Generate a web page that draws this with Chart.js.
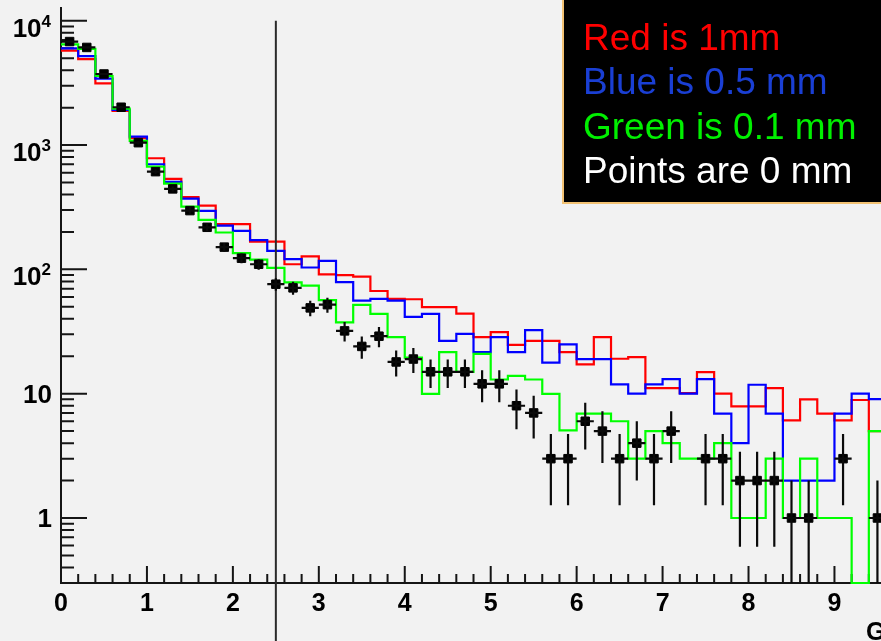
<!DOCTYPE html>
<html>
<head>
<meta charset="utf-8">
<title>Track distributions by pitch</title>
<script src="https://cdn.jsdelivr.net/npm/chart.js@4.4.1/dist/chart.umd.min.js"></script>
<style>
  html, body { margin: 0; padding: 0; background: #f2f2f2; overflow: hidden; width: 881px; height: 641px; }
  #wrap { position: absolute; left: 0; top: 0; width: 960px; height: 641px; }
</style>
</head>
<body>
<div id="wrap"><canvas id="c" width="960" height="641"></canvas></div>
<script>
// Histogram binning: lower edge of every 0.2-wide bin
const BIN_WIDTH = 0.2;
const BIN_LOW = [0.0, 0.2, 0.4, 0.6, 0.8, 1.0, 1.2, 1.4, 1.6, 1.8,
                 2.0, 2.2, 2.4, 2.6, 2.8, 3.0, 3.2, 3.4, 3.6, 3.8,
                 4.0, 4.2, 4.4, 4.6, 4.8, 5.0, 5.2, 5.4, 5.6, 5.8,
                 6.0, 6.2, 6.4, 6.6, 6.8, 7.0, 7.2, 7.4, 7.6, 7.8,
                 8.0, 8.2, 8.4, 8.6, 8.8, 9.0, 9.2, 9.4];

// 1 mm (red)
const RED_1MM = [5740, 4920, 3140, 1880, 1135, 783, 534, 382, 326, 231,
                 231, 167, 167, 110, 127, 91, 90, 87.5, 67, 58,
                 57.5, 49.7, 49.7, 44, 28.5, 31.3, 24.7, 26.6, 26.6, 21.6,
                 17.2, 28.5, 19.1, 19.7, 11.1, 11.1, 10.1, 14.9, 10.0, 7.9,
                 7.9, 11.1, 6.1, 9.0, 6.9, 6.1, 8.9, 5.0];

// 0.5 mm (blue)
const BLUE_05MM = [6000, 5200, 3420, 1915, 1169, 701, 505, 371, 296, 225,
                   204, 172, 141, 121, 103.5, 117, 78.9, 56.1, 57.9, 56.1,
                   41.5, 43.9, 26.6, 30.3, 21.6, 28.5, 21.6, 32.4, 17.8, 24.9,
                   19.0, 19.0, 11.9, 10.0, 11.9, 13.1, 10.0, 13.1, 6.9, 4.0,
                   11.8, 6.9, 2.0, 2.0, 2.0, 6.9, 10.0, 9.05];

// 0.1 mm (green)
const GREEN_01MM = [6460, 5930, 3594, 1963, 1079, 670, 490, 320, 250, 198,
                    135, 120, 103, 78.5, 74, 56.5, 37.4, 51.8, 43.9, 28.5,
                    19.5, 9.95, 21.6, 15, 20.9, 13, 13.9, 13, 9.95, 5.06,
                    6.9, 6.9, 6.0, 3, 5, 4, 3, 3, 4, 1,
                    1, 3, 1, 3, 1, 1, 0, 5];

// 0 mm (black points, counts with sqrt(N) errors)
const POINTS_0MM = [6800, 6100, 3730, 2015, 1045, 611, 444, 297, 218, 151,
                    123, 110, 76, 71, 49, 52, 32, 24, 29, 18,
                    19, 15, 15, 15, 12, 12, 8, 7, 3, 3,
                    6, 5, 3, 4, 3, 5, 0, 3, 3, 2,
                    2, 2, 1, 1, 0, 3, 0, 1];

// Axis ticks and labels
const X_TICK_LABELS = ['0', '1', '2', '3', '4', '5', '6', '7', '8', '9'];
const Y_TICK_VALUES = [1, 10, 100, 1000, 10000];
const Y_TICK_BASES = ['1', '10', '10', '10', '10'];
const Y_TICK_EXPONENTS = ['', '', '2', '3', '4'];
const X_AXIS_TITLE = 'GeV';
const CUT_X = 2.5;
const CUT_TOP = 10000;

const X_MIN = 0, X_MAX = 10;
const Y_MIN = 0.3, Y_MAX = 12900;

const LEGEND_LINES = ['Red is 1mm', 'Blue is 0.5 mm', 'Green is 0.1 mm', 'Points are 0 mm'];
const LEGEND_COLORS = ['#ff0000', '#1a3fd4', '#00f000', '#ffffff'];

// step outline: one point per lower edge plus the closing upper edge; empty bins rest on the axis floor
function stepData(values) {
  const pts = values.map((v, i) => ({ x: BIN_LOW[i], y: Math.max(v, Y_MIN) }));
  const last = values.length - 1;
  pts.push({ x: BIN_LOW[last] + BIN_WIDTH, y: Math.max(values[last], Y_MIN) });
  return pts;
}

function histDataset(values, color, order) {
  return {
    type: 'line',
    data: stepData(values),
    borderColor: color,
    borderWidth: 2.2,
    stepped: 'before',
    pointRadius: 0,
    fill: false,
    clip: false,
    order: order
  };
}

const pointData = POINTS_0MM
  .map((n, i) => ({ x: BIN_LOW[i] + BIN_WIDTH / 2, y: n }))
  .filter(p => p.y > 0);

const FONT = '"Liberation Sans", Arial, Helvetica, sans-serif';

function drawAxes(chart) {
  const { ctx, chartArea: a, scales: { x, y } } = chart;
  ctx.save();
  ctx.strokeStyle = '#151515';
  ctx.lineWidth = 2;
  ctx.beginPath();
  ctx.moveTo(a.left, a.top);
  ctx.lineTo(a.left, a.bottom);
  ctx.lineTo(a.right, a.bottom);
  ctx.stroke();

  // x ticks, drawn upward into the frame
  ctx.beginPath();
  for (let i = 1; i <= 50; i++) {
    const v = i * 0.2;
    const px = x.getPixelForValue(v);
    const major = i % 5 === 0;
    ctx.moveTo(px, a.bottom);
    ctx.lineTo(px, a.bottom - (major ? 17 : 9));
  }
  // y ticks, drawn rightward into the frame
  for (let d = -1; d <= 4; d++) {
    for (let m = 1; m <= 9; m++) {
      const v = m * Math.pow(10, d);
      if (v < Y_MIN || v > Y_MAX) continue;
      const py = y.getPixelForValue(v);
      ctx.moveTo(a.left, py);
      ctx.lineTo(a.left + (m === 1 ? 26 : 13), py);
    }
  }
  ctx.stroke();

  // labels
  ctx.fillStyle = '#000';
  ctx.font = 'bold 25px ' + FONT;
  ctx.textAlign = 'center';
  ctx.textBaseline = 'alphabetic';
  X_TICK_LABELS.forEach(t => {
    ctx.fillText(t, x.getPixelForValue(parseFloat(t)), 611);
  });

  Y_TICK_VALUES.forEach((v, i) => {
    const py = y.getPixelForValue(v);
    const base = Y_TICK_BASES[i];
    const ex = Y_TICK_EXPONENTS[i];
    ctx.textAlign = 'right';
    if (ex) {
      ctx.font = 'bold 17px ' + FONT;
      const w = ctx.measureText(ex).width;
      ctx.fillText(ex, 51, py + 6);
      ctx.font = 'bold 26px ' + FONT;
      ctx.fillText(base, 51 - w, py + 16);
    } else {
      ctx.font = 'bold 26px ' + FONT;
      ctx.fillText(base, 52, py + 9);
    }
  });

  ctx.textAlign = 'left';
  ctx.font = 'bold 25px ' + FONT;
  ctx.fillText(X_AXIS_TITLE, 866, 640);
  ctx.restore();
}

function drawCutAndErrors(chart) {
  const { ctx, chartArea: a, scales: { x, y } } = chart;
  ctx.save();
  // selection cut line
  ctx.strokeStyle = '#2a2a2a';
  ctx.lineWidth = 2;
  const cx = x.getPixelForValue(CUT_X);
  ctx.beginPath();
  ctx.moveTo(cx, y.getPixelForValue(CUT_TOP));
  ctx.lineTo(cx, chart.height);
  ctx.stroke();

  // error bars: +-sqrt(N) vertically, full bin width horizontally
  ctx.strokeStyle = '#0a0a0a';
  ctx.lineWidth = 2.2;
  ctx.beginPath();
  pointData.forEach(p => {
    const err = Math.sqrt(p.y);
    const px = x.getPixelForValue(p.x);
    const py = y.getPixelForValue(p.y);
    const hi = y.getPixelForValue(p.y + err);
    const loVal = p.y - err;
    const lo = loVal > Y_MIN ? y.getPixelForValue(loVal) : a.bottom;
    ctx.moveTo(px, hi);
    ctx.lineTo(px, lo);
    ctx.moveTo(x.getPixelForValue(p.x - BIN_WIDTH / 2), py);
    ctx.lineTo(x.getPixelForValue(p.x + BIN_WIDTH / 2), py);
  });
  ctx.stroke();
  ctx.restore();
}

function drawLegend(chart) {
  const { ctx } = chart;
  ctx.save();
  ctx.fillStyle = '#000';
  ctx.fillRect(563, -10, 500, 213);
  ctx.strokeStyle = '#f2c274';
  ctx.lineWidth = 2;
  ctx.strokeRect(563, -10, 500, 213);
  ctx.font = '37px ' + FONT;
  ctx.textAlign = 'left';
  ctx.textBaseline = 'alphabetic';
  const baselines = [50, 94, 139, 183];
  LEGEND_LINES.forEach((t, i) => {
    ctx.fillStyle = LEGEND_COLORS[i];
    ctx.fillText(t, 583, baselines[i]);
  });
  ctx.restore();
}

const rootStyle = {
  id: 'rootStyle',
  beforeDatasetsDraw: drawAxes,
  afterDatasetsDraw: drawCutAndErrors,
  afterDraw: drawLegend
};

new Chart(document.getElementById('c'), {
  type: 'line',
  data: {
    datasets: [
      {
        type: 'scatter',
        data: pointData,
        showLine: false,
        pointStyle: 'rect',
        pointRadius: 6,
        pointBackgroundColor: '#000',
        pointBorderColor: '#000',
        pointBorderWidth: 1,
        clip: false,
        order: 0
      },
      histDataset(GREEN_01MM, '#00ff00', 1),
      histDataset(BLUE_05MM, '#0000ff', 2),
      histDataset(RED_1MM, '#ff0000', 3)
    ]
  },
  options: {
    responsive: false,
    animation: false,
    events: [],
    layout: { padding: { left: 61, top: 7, right: 39.6, bottom: 58 } },
    plugins: { legend: { display: false }, tooltip: { enabled: false } },
    scales: {
      x: { type: 'linear', min: X_MIN, max: X_MAX, display: false },
      y: { type: 'logarithmic', min: Y_MIN, max: Y_MAX, display: false }
    }
  },
  plugins: [rootStyle]
});
</script>
</body>
</html>
